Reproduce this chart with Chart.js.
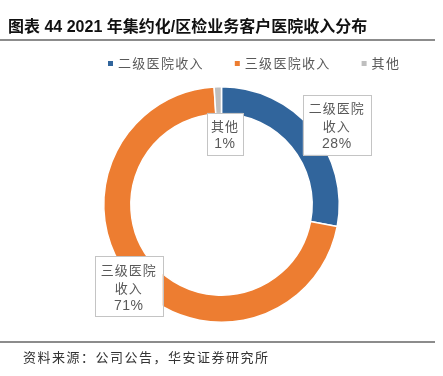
<!DOCTYPE html>
<html>
<head>
<meta charset="utf-8">
<script src="https://cdn.jsdelivr.net/npm/chart.js@4/dist/chart.umd.min.js"></script>
<style>
    body { margin: 0; background: #fff; width: 443px; height: 376px; position: relative; overflow: hidden;
           font-family: "Liberation Sans", "Noto Sans CJK SC", sans-serif; }
    #wrap { position: absolute; left: 0; top: 0; width: 443px; height: 376px; }
    #title { position: absolute; left: 8px; top: 16px; font-size: 16px; font-weight: bold; color: #111;
             white-space: nowrap; line-height: 21px; }
    .rule { position: absolute; left: 0; width: 435px; height: 2px; background: #8c8c8c; }
    #src { position: absolute; left: 23px; top: 348px; font-size: 13px; letter-spacing: 1.5px; color: #333;
           line-height: 18px; white-space: nowrap; font-family: "Noto Sans CJK SC", sans-serif; }
</style>
</head>
<body>
<div id="wrap"><canvas id="chart"></canvas></div>
<div id="title">图表 44 2021 年集约化/区检业务客户医院收入分布</div>
<div class="rule" style="top:39px"></div>
<div class="rule" style="top:341px"></div>
<div id="src">资料来源：公司公告，华安证券研究所</div>

<script>
    // data
    const categories = ["二级医院收入", "三级医院收入", "其他"];
    const labelLines = [["二级医院", "收入"], ["三级医院", "收入"], ["其他"]];
    const shares = [28, 71, 1];
    const colors = ["#31659c", "#ed7d31", "#bfbfbf"];

    const LABEL_FONT = "13px 'Noto Sans CJK SC', sans-serif";

    // legend drawn on the canvas, shifted right like the original
    const legendPlugin = {
        id: "offsetLegend",
        afterDraw(chart, args, opts) {
            const ctx = chart.ctx;
            ctx.save();
            ctx.font = LABEL_FONT;
            ctx.letterSpacing = "1.3px";
            ctx.textBaseline = "middle";
            let x = opts.x;
            chart.data.labels.forEach((lbl, i) => {
                ctx.fillStyle = chart.data.datasets[0].backgroundColor[i];
                ctx.fillRect(x, opts.y - 2.5, 5, 5);
                ctx.fillStyle = "#595959";
                ctx.fillText(lbl, x + 10, opts.y);
                x += 10 + ctx.measureText(lbl).width + opts.gap;
            });
            ctx.restore();
        },
    };

    // boxed data labels placed from each arc's mid angle
    const boxLabels = {
        id: "boxLabels",
        afterDatasetsDraw(chart, args, opts) {
            const ctx = chart.ctx;
            const meta = chart.getDatasetMeta(0);
            ctx.save();
            ctx.font = LABEL_FONT;
            ctx.letterSpacing = "1px";
            ctx.textAlign = "center";
            ctx.textBaseline = "middle";
            meta.data.forEach((arc, i) => {
                const p = arc.getProps(["x", "y", "startAngle", "endAngle", "outerRadius"], true);
                const ang = (p.startAngle + p.endAngle) / 2 + opts.angleOffset[i] * Math.PI / 180;
                const r = p.outerRadius * opts.radius[i];
                const cx = p.x + Math.cos(ang) * r;
                const cy = p.y + Math.sin(ang) * r;
                const lines = labelLines[i].concat([shares[i] + "%"]);
                const w = Math.max(...lines.map((t) => ctx.measureText(t).width)) + opts.padX[i] * 2;
                const h = lines.length * opts.lineHeight + 6;
                ctx.fillStyle = "#fff";
                ctx.fillRect(cx - w / 2, cy - h / 2, w, h);
                ctx.strokeStyle = "#c4c4c4";
                ctx.lineWidth = 1;
                ctx.strokeRect(Math.round(cx - w / 2) + 0.5, Math.round(cy - h / 2) + 0.5, Math.round(w), Math.round(h));
                ctx.fillStyle = "#595959";
                lines.forEach((t, k) => {
                    const ty = cy + (k - (lines.length - 1) / 2) * opts.lineHeight + 1.5;
                    if (k === lines.length - 1) {
                        ctx.font = "14px 'Liberation Sans', sans-serif";
                        ctx.letterSpacing = "0.5px";
                    }
                    ctx.fillText(t, cx, ty);
                });
                ctx.font = LABEL_FONT;
                ctx.letterSpacing = "1px";
            });
            ctx.restore();
        },
    };

    new Chart(document.getElementById("chart"), {
        type: "doughnut",
        data: {
            labels: categories,
            datasets: [
                {
                    data: shares,
                    backgroundColor: colors,
                    borderColor: "#fff",
                    borderWidth: 1.5,
                },
            ],
        },
        options: {
            responsive: true,
            maintainAspectRatio: false,
            animation: false,
            cutout: "77%",
            layout: { padding: { top: 86, bottom: 53, left: 0, right: 0 } },
            plugins: {
                legend: { display: false },
                tooltip: { enabled: false },
                offsetLegend: { x: 108, y: 63.5, gap: 31 },
                boxLabels: {
                    radius: [1.19, 1.05, 0.6],
                    angleOffset: [5, 0, 4.6],
                    padX: [6, 6, 4],
                    lineHeight: 18,
                },
            },
        },
        plugins: [legendPlugin, boxLabels],
    });
</script>
</body>
</html>
